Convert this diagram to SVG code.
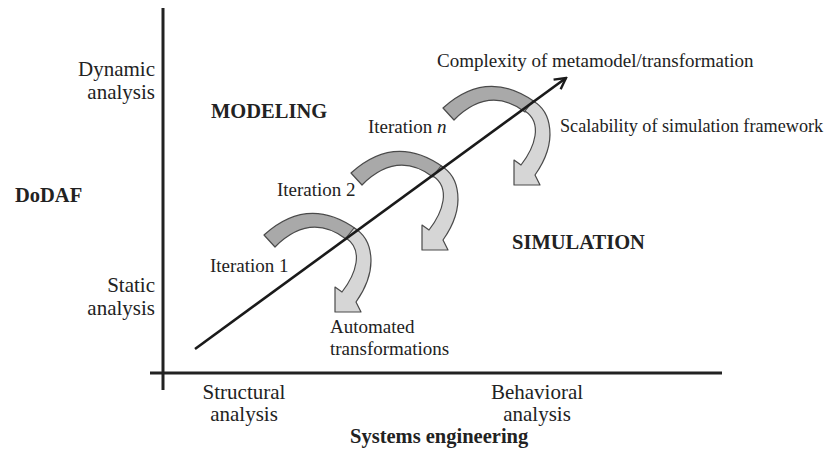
<svg xmlns="http://www.w3.org/2000/svg" xmlns:xlink="http://www.w3.org/1999/xlink" width="830" height="461" viewBox="0 0 830 461">
<style>
  .ax { font-family: "Liberation Serif", "Times New Roman", serif; font-size: 21px; fill: #222; }
  .lb { font-family: "Liberation Serif", "Times New Roman", serif; font-size: 19px; fill: #222; }
  .bd { font-family: "Liberation Serif", "Times New Roman", serif; font-size: 20.5px; font-weight: bold; fill: #222; }
  .band { fill: #a9a9a9; stroke: #4a4a4a; stroke-width: 1.2; stroke-linejoin: round; }
  .arr { fill: #d6d6d6; stroke: #4a4a4a; stroke-width: 1.2; stroke-linejoin: round; }
  .axis { stroke: #222; stroke-width: 3; fill: none; }
  .diag { stroke: #1a1a1a; stroke-width: 2.6; fill: none; }
</style>
<defs>
  <marker id="open" viewBox="0 0 14 14" refX="12" refY="7" markerWidth="14" markerHeight="14" markerUnits="userSpaceOnUse" orient="auto">
    <path d="M1,1 L12,7 L1,13" fill="none" stroke="#1a1a1a" stroke-width="2.4"/>
  </marker>
  <g id="iterShape">
    <path class="band" d="M -94,5 Q -50,-35 -2,-1 L -12,9 Q -48,-18 -83,17 Z"/>
    <path class="arr" d="M -4,-2 C 14,8 22,38 -2,72 L 3,82 L -23,82 L -23,57 L -16,62 C -2,44 6,20 -12,8 Z"/>
  </g>
</defs>
<rect width="830" height="461" fill="#fff"/>

<g id="axes">
  <line class="axis" x1="163" y1="8" x2="163" y2="390"/>
  <line class="axis" x1="150" y1="373" x2="722" y2="373"/>
</g>

<g id="axis-labels">
  <text class="ax" x="155" y="76" text-anchor="end">Dynamic</text>
  <text class="ax" x="155" y="99" text-anchor="end">analysis</text>
  <text class="ax" x="155" y="292" text-anchor="end">Static</text>
  <text class="ax" x="155" y="315" text-anchor="end">analysis</text>
  <text class="bd" x="15" y="202">DoDAF</text>
  <text class="ax" x="244" y="399" text-anchor="middle">Structural</text>
  <text class="ax" x="244" y="421" text-anchor="middle">analysis</text>
  <text class="ax" x="537" y="399" text-anchor="middle">Behavioral</text>
  <text class="ax" x="537" y="421" text-anchor="middle">analysis</text>
  <text class="bd" x="350" y="443">Systems engineering</text>
</g>

<g id="region-labels">
  <text class="bd" x="211" y="118">MODELING</text>
  <text class="bd" x="512" y="249">SIMULATION</text>
</g>

<g id="iteration-1">
  <use xlink:href="#iterShape" transform="translate(358,230)"/>
  <text class="lb" x="210" y="272">Iteration 1</text>
</g>
<g id="iteration-2">
  <use xlink:href="#iterShape" transform="translate(445,168)"/>
  <text class="lb" x="277" y="196">Iteration 2</text>
</g>
<g id="iteration-n">
  <use xlink:href="#iterShape" transform="translate(537,103)"/>
  <text class="lb" x="368" y="133">Iteration <tspan font-style="italic">n</tspan></text>
</g>

<g id="notes">
  <text class="lb" x="437" y="67">Complexity of metamodel/transformation</text>
  <text class="lb" x="560" y="132" style="font-size:18.2px">Scalability of simulation framework</text>
  <text class="lb" x="330" y="333">Automated</text>
  <text class="lb" x="330" y="355">transformations</text>
</g>

<g id="connectors">
  <line class="diag" x1="195" y1="349" x2="566" y2="78" marker-end="url(#open)"/>
</g>
</svg>
